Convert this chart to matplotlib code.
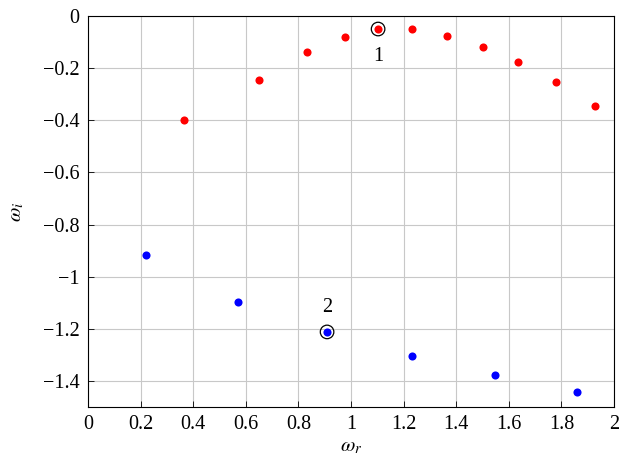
import matplotlib
matplotlib.use("Agg")
import matplotlib.pyplot as plt

plt.rcParams["font.family"] = ["Liberation Serif", "DejaVu Serif"]
plt.rcParams["mathtext.fontset"] = "stix"

red_x = [0.365, 0.65, 0.833, 0.977, 1.103, 1.232, 1.365, 1.502, 1.635, 1.78, 1.928]
red_y = [-0.40, -0.245, -0.138, -0.08, -0.05, -0.05, -0.077, -0.119, -0.176, -0.253, -0.345]
blue_x = [0.22, 0.57, 0.909, 1.232, 1.548, 1.859]
blue_y = [-0.917, -1.097, -1.212, -1.304, -1.377, -1.442]
marked_x = [1.103, 0.909]
marked_y = [-0.05, -1.212]
marked_labels = ["1", "2"]
label_offsets = [-0.105, 0.095]

fig = plt.figure(figsize=(6.25, 4.69), dpi=100)
ax = fig.add_axes([0.1408, 0.1322, 0.8416, 0.8337])

ax.scatter(red_x, red_y, s=34, color="red", zorder=3, linewidths=0)
ax.scatter(blue_x, blue_y, s=34, color="blue", zorder=3, linewidths=0)
ax.scatter(marked_x, marked_y, s=95, facecolors="none", edgecolors="black", linewidths=0.9, zorder=4)
for x, y, lbl, dy in zip(marked_x, marked_y, marked_labels, label_offsets):
    ax.text(x, y + dy, lbl, ha="center", va="center", fontsize=14.5)

ax.set_xlim(0, 2)
ax.set_ylim(-1.5, 0)
ax.set_xticks([0, 0.2, 0.4, 0.6, 0.8, 1, 1.2, 1.4, 1.6, 1.8, 2])
ax.set_xticklabels(["0", "0.2", "0.4", "0.6", "0.8", "1", "1.2", "1.4", "1.6", "1.8", "2"])
ax.set_yticks([0, -0.2, -0.4, -0.6, -0.8, -1, -1.2, -1.4])
ax.set_yticklabels(["0", "\u22120.2", "\u22120.4", "\u22120.6", "\u22120.8", "\u22121", "\u22121.2", "\u22121.4"])
ax.tick_params(direction="in", length=4, width=0.6, labelsize=14.5, pad=6)
ax.grid(True, color="#c8c8c8", linewidth=0.8)
ax.set_axisbelow(True)
for sp in ax.spines.values():
    sp.set_linewidth(0.8)

ax.set_xlabel(r"$\omega_r$", fontsize=15, labelpad=2)
ax.set_ylabel(r"$\omega_i$", fontsize=15, labelpad=12)

fig.savefig("out.png", dpi=100)
